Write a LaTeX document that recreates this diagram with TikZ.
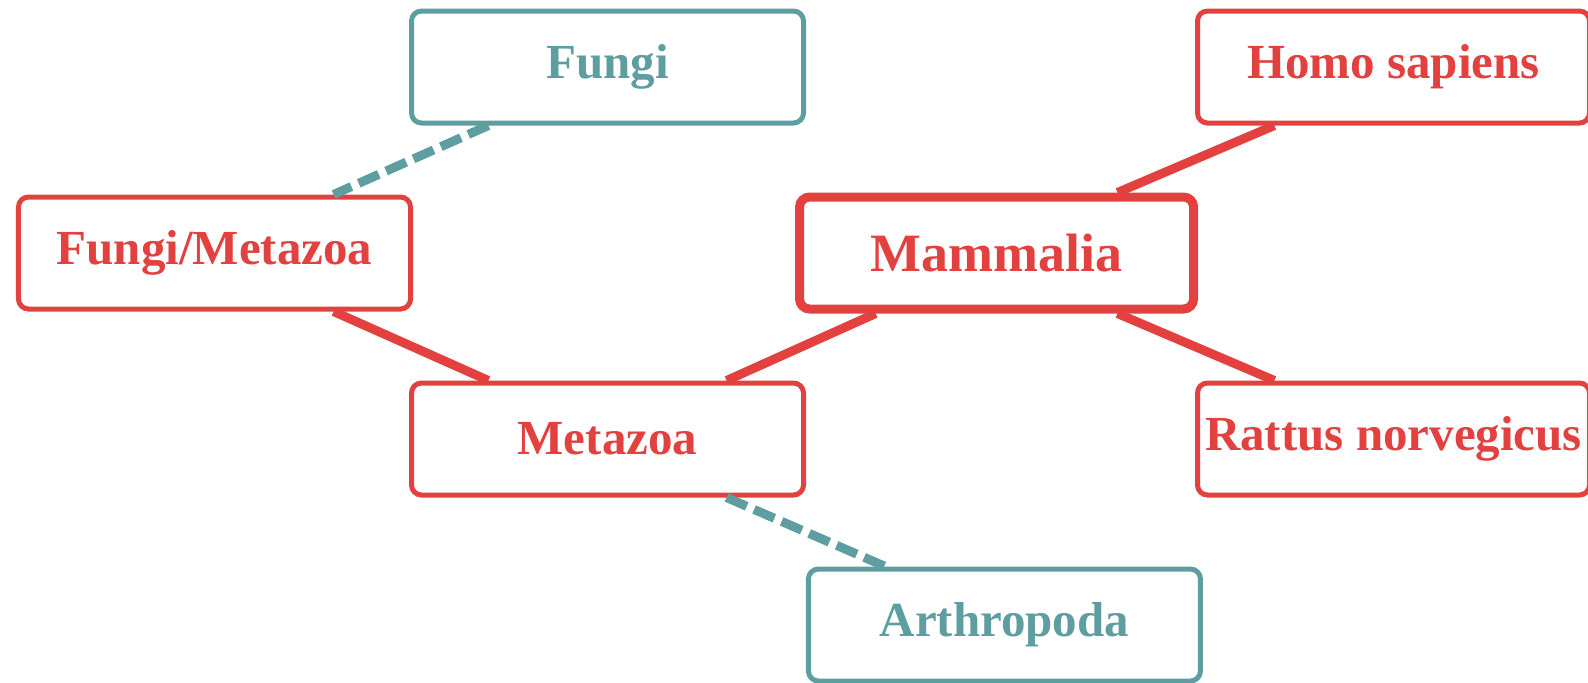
\documentclass[tikz,border=0pt]{standalone}
\usepackage{fontspec}
\setmainfont{Liberation Serif}
\usetikzlibrary{calc}
\definecolor{cladered}{HTML}{E34040}
\definecolor{cladeteal}{HTML}{5F9EA0}
\begin{document}
\begin{tikzpicture}[
  x=196.5pt, y=93pt,
  every node/.style={draw, rounded corners=5pt, line width=2.5pt, inner xsep=2pt, minimum width=196pt, minimum height=56pt, font=\bfseries\fontsize{24.5}{30}\selectfont},
  kept/.style={cladered, text=cladered},
  lost/.style={cladeteal, text=cladeteal},
  focus/.style={line width=4.5pt, minimum width=197pt, font=\bfseries\fontsize{27}{32}\selectfont},
  link/.style={line width=4.5pt, cladered},
  gap/.style={line width=4.5pt, cladeteal, dash pattern=on 11pt off 4pt}
]
\useasboundingbox (-107.25pt,126.5pt) rectangle (686.75pt,-214.5pt);
\node[kept] (fungimetazoa) at (0,0) {Fungi/Metazoa};
\node[lost] (fungi) at (1,1) {Fungi};
\node[kept] (metazoa) at (1,-1) {Metazoa};
\node[lost] (arthropoda) at (2.01,-2) {Arthropoda};
\node[kept, focus] (mammalia) at (1.99,0) {Mammalia};
\node[kept] (homo) at (3,1) {Homo sapiens};
\node[kept] (rattus) at (3,-1) {Rattus norvegicus};
\draw[gap] ($(fungi.south west)!.2!(fungi.south east)$) -- ($(fungimetazoa.north west)!.8!(fungimetazoa.north east)$);
\draw[link] ($(fungimetazoa.south west)!.8!(fungimetazoa.south east)$) -- ($(metazoa.north west)!.2!(metazoa.north east)$);
\draw[link] ($(mammalia.south west)!.2!(mammalia.south east)$) -- ($(metazoa.north west)!.8!(metazoa.north east)$);
\draw[gap] ($(metazoa.south west)!.8!(metazoa.south east)$) -- ($(arthropoda.north west)!.2!(arthropoda.north east)$);
\draw[link] ($(mammalia.north west)!.8!(mammalia.north east)$) -- ($(homo.south west)!.2!(homo.south east)$);
\draw[link] ($(mammalia.south west)!.8!(mammalia.south east)$) -- ($(rattus.north west)!.2!(rattus.north east)$);
\end{tikzpicture}
\end{document}
